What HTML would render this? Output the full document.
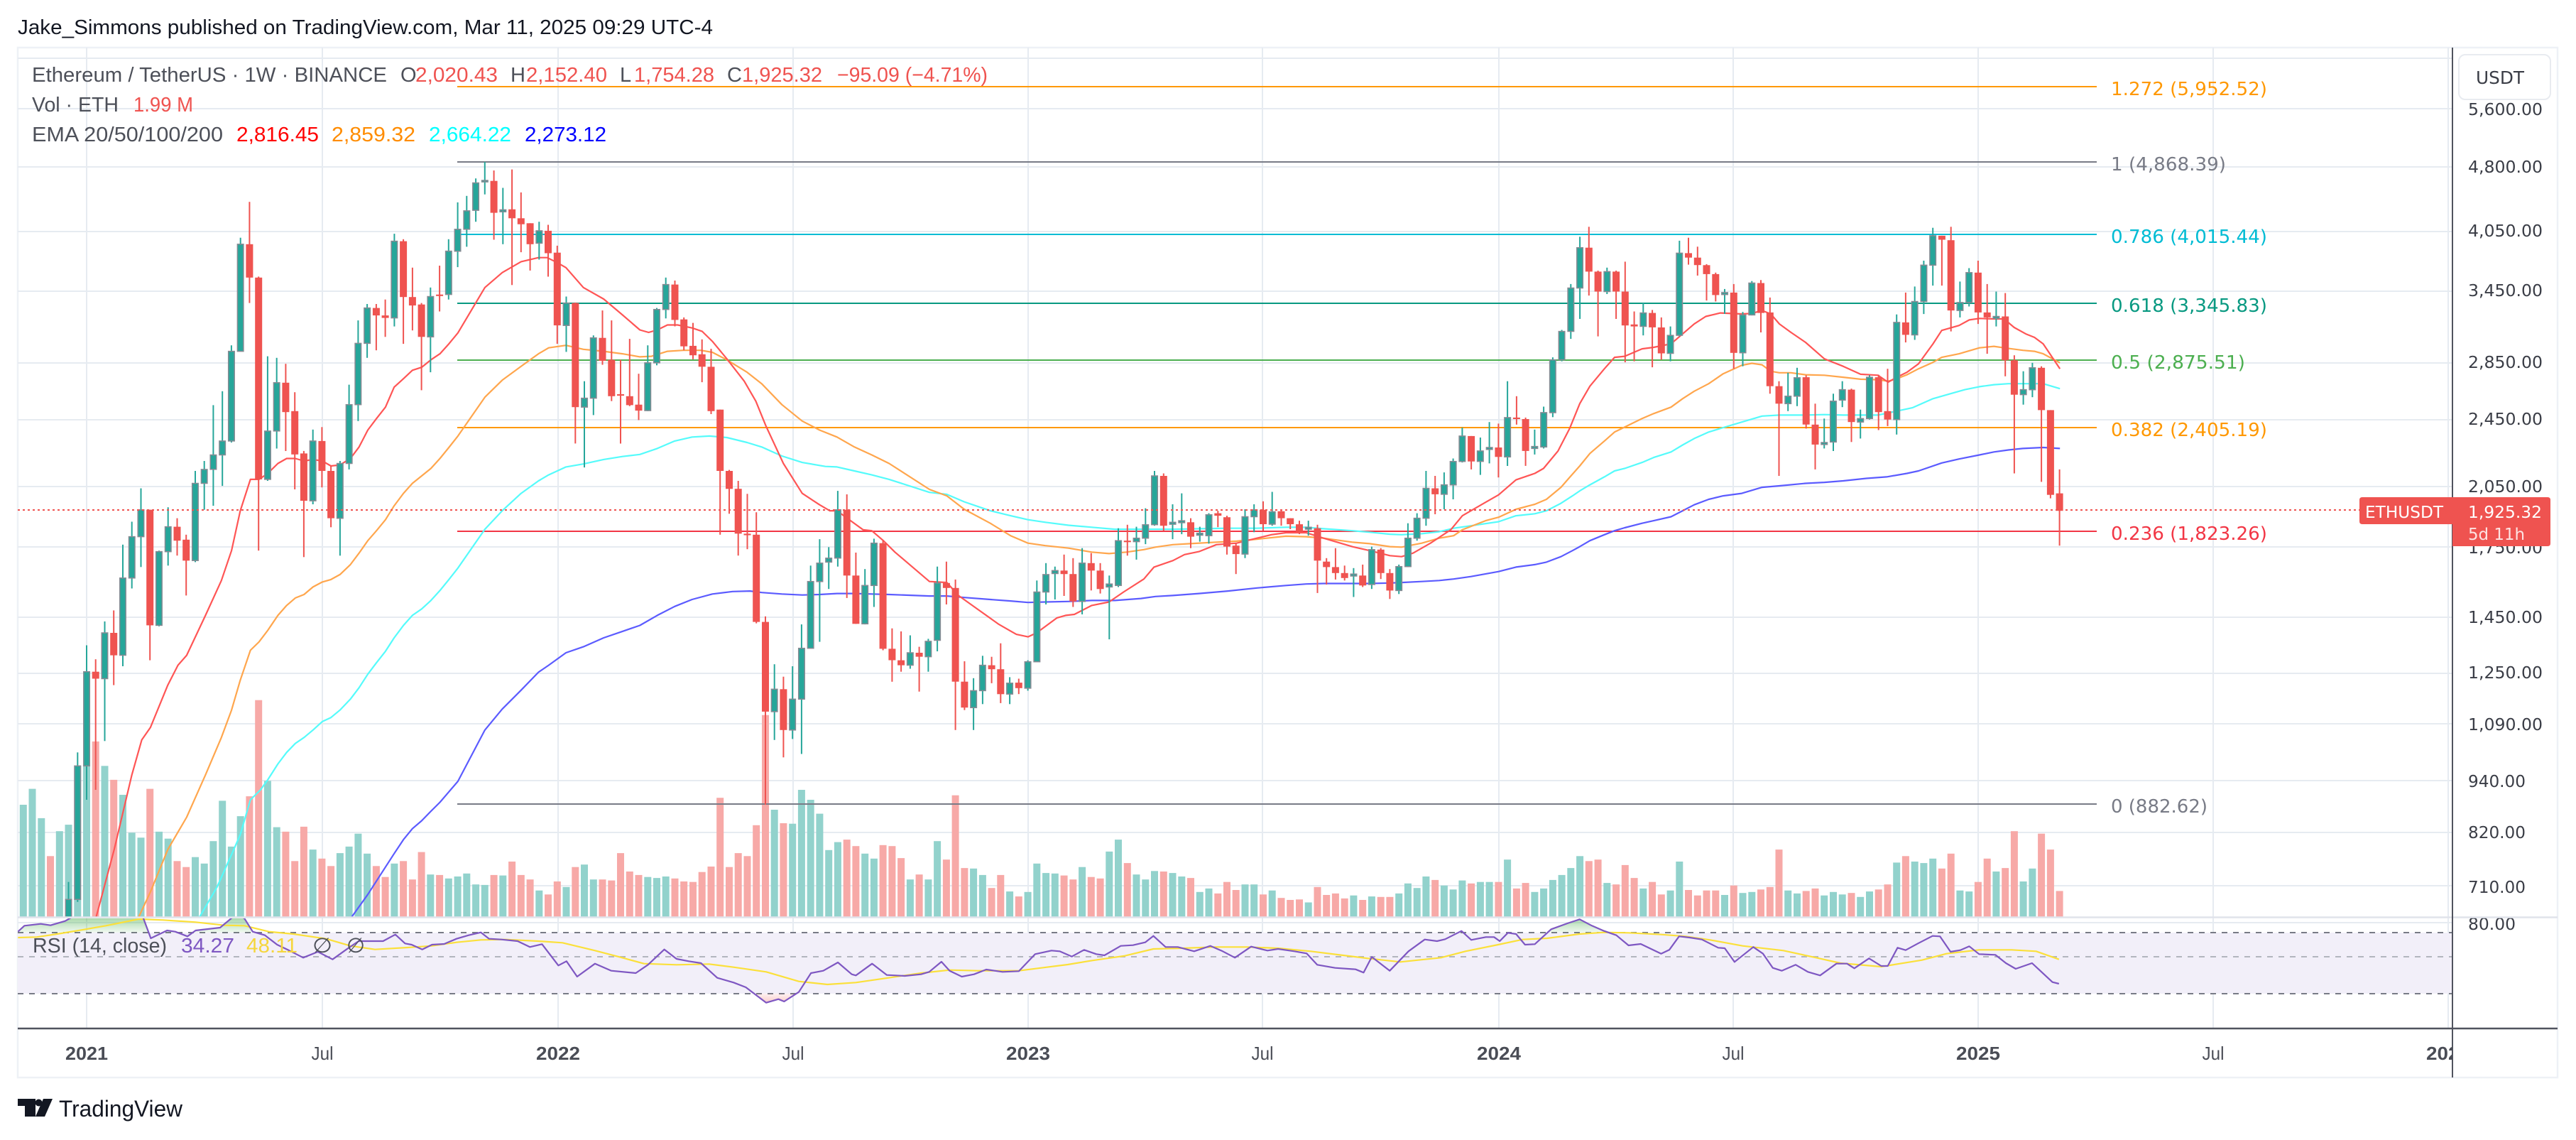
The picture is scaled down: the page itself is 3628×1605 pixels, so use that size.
<!DOCTYPE html>
<html><head><meta charset="utf-8">
<style>
html,body{margin:0;padding:0;background:#fff;}
svg{display:block;}
.lg{font-family:"Liberation Sans",Arial,sans-serif;font-size:29px;}
.ax{font-family:"DejaVu Sans","Liberation Sans",sans-serif;font-size:23.5px;fill:#3a3d46;}
.fb{font-family:"DejaVu Sans","Liberation Sans",sans-serif;font-size:26px;}
.tm{font-family:"Liberation Sans",Arial,sans-serif;font-size:26px;fill:#4a4d56;}
</style></head><body>
<svg id="s" width="3628" height="1605" viewBox="0 0 3628 1605" xmlns="http://www.w3.org/2000/svg">
<defs>
<clipPath id="cm"><rect x="25" y="67" width="3429" height="1224"/></clipPath>
<clipPath id="cr"><rect x="25" y="1293" width="3429" height="154"/></clipPath>
<clipPath id="cob"><rect x="25" y="1293" width="3429" height="20"/></clipPath>
<clipPath id="cos"><rect x="25" y="1399" width="3429" height="48"/></clipPath>
<clipPath id="ct"><rect x="25" y="1449" width="3429" height="68"/></clipPath>
<linearGradient id="gob" gradientUnits="userSpaceOnUse" x1="0" y1="1291" x2="0" y2="1313"><stop offset="0" stop-color="#4caf50" stop-opacity=".5"/><stop offset="1" stop-color="#4caf50" stop-opacity=".08"/></linearGradient>
<linearGradient id="gos" gradientUnits="userSpaceOnUse" x1="0" y1="1399" x2="0" y2="1420"><stop offset="0" stop-color="#ef5350" stop-opacity=".08"/><stop offset="1" stop-color="#ef5350" stop-opacity=".45"/></linearGradient>
</defs>
<rect width="3628" height="1605" fill="#fff"/>

<!-- header -->
<text x="25" y="48" class="lg" fill="#131722" textLength="979" lengthAdjust="spacingAndGlyphs">Jake_Simmons published on TradingView.com, Mar 11, 2025 09:29 UTC-4</text>

<!-- frame -->
<rect x="25" y="67" width="3577" height="1450" fill="none" stroke="#eef1f6" stroke-width="2.5"/>

<!-- grid -->
<g stroke="#e6ebf1" stroke-width="2" fill="none">
<path d="M25 82H3454M25 153H3454M25 235H3454M25 326H3454M25 410H3454M25 511H3454M25 591H3454M25 685H3454M25 770H3454M25 869H3454M25 948H3454M25 1019H3454M25 1099H3454M25 1172H3454M25 1247H3454M25 1299H3454"/>
<path d="M122 67V1448M454 67V1448M786 67V1448M1117 67V1448M1448 67V1448M1778 67V1448M2111 67V1448M2441 67V1448M2786 67V1448M3117 67V1448M3448 67V1448"/>
</g>

<!-- RSI band fill -->
<rect x="25" y="1313" width="3429" height="86" fill="#f2eff9"/>
<g stroke-width="2" fill="none">
<path d="M25 1313H3454" stroke="#787b86" stroke-dasharray="8,8"/>
<path d="M25 1347H3454" stroke="#b2b5be" stroke-dasharray="8,8"/>
<path d="M25 1399H3454" stroke="#787b86" stroke-dasharray="8,8"/>
</g>

<g clip-path="url(#cm)">
<g id="vol"></g>
<!-- fib lines -->
<g stroke-width="2">
<path d="M644 122H2953" stroke="#ff9800"/>
<path d="M644 228H2953" stroke="#787b86"/>
<path d="M644 330H2953" stroke="#00bcd4"/>
<path d="M644 427H2953" stroke="#089981"/>
<path d="M644 507H2953" stroke="#4caf50"/>
<path d="M644 602H2953" stroke="#ff9800"/>
<path d="M644 748H2953" stroke="#f23645"/>
<path d="M644 1132H2953" stroke="#787b86"/>
</g>
<g fill="none" stroke-width="2.2" stroke-linejoin="round">
<path id="e200" stroke="#5b5bff"/>
<path id="e100" stroke="#55fbfb"/>
<path id="e50" stroke="#ffa64d"/>
<path id="e20" stroke="#ff5555"/>
</g>
<g id="wk"></g>
<g id="bd"></g>
</g>

<!-- dotted current price line -->
<path d="M25 718H3323" stroke="#ef5350" stroke-width="2" stroke-dasharray="3,4"/>

<!-- fib labels -->
<g class="fb">
<text x="2973" y="134" fill="#ff9800" textLength="220" lengthAdjust="spacingAndGlyphs">1.272 (5,952.52)</text>
<text x="2973" y="240" fill="#787b86" textLength="162" lengthAdjust="spacingAndGlyphs">1 (4,868.39)</text>
<text x="2973" y="342" fill="#00bcd4" textLength="220" lengthAdjust="spacingAndGlyphs">0.786 (4,015.44)</text>
<text x="2973" y="439" fill="#089981" textLength="220" lengthAdjust="spacingAndGlyphs">0.618 (3,345.83)</text>
<text x="2973" y="519" fill="#4caf50" textLength="189" lengthAdjust="spacingAndGlyphs">0.5 (2,875.51)</text>
<text x="2973" y="614" fill="#ff9800" textLength="220" lengthAdjust="spacingAndGlyphs">0.382 (2,405.19)</text>
<text x="2973" y="760" fill="#f23645" textLength="220" lengthAdjust="spacingAndGlyphs">0.236 (1,823.26)</text>
<text x="2973" y="1144" fill="#787b86" textLength="136" lengthAdjust="spacingAndGlyphs">0 (882.62)</text>
</g>

<!-- legend -->
<g class="lg">
<text x="45" y="115" fill="#4d5059" textLength="500" lengthAdjust="spacingAndGlyphs">Ethereum / TetherUS · 1W · BINANCE</text>
<text x="564" y="115" fill="#4d5059">O</text>
<text x="585" y="115" fill="#ef5350" textLength="116" lengthAdjust="spacingAndGlyphs">2,020.43</text>
<text x="719" y="115" fill="#4d5059">H</text>
<text x="741" y="115" fill="#ef5350" textLength="114" lengthAdjust="spacingAndGlyphs">2,152.40</text>
<text x="873" y="115" fill="#4d5059">L</text>
<text x="893" y="115" fill="#ef5350" textLength="113" lengthAdjust="spacingAndGlyphs">1,754.28</text>
<text x="1024" y="115" fill="#4d5059">C</text>
<text x="1045" y="115" fill="#ef5350" textLength="113" lengthAdjust="spacingAndGlyphs">1,925.32</text>
<text x="1179" y="115" fill="#ef5350" textLength="212" lengthAdjust="spacingAndGlyphs">−95.09 (−4.71%)</text>
<text x="45" y="157" fill="#4d5059" textLength="122" lengthAdjust="spacingAndGlyphs">Vol · ETH</text>
<text x="188" y="157" fill="#ef5350" textLength="84" lengthAdjust="spacingAndGlyphs">1.99 M</text>
<text x="45" y="199" fill="#4d5059" textLength="269" lengthAdjust="spacingAndGlyphs">EMA 20/50/100/200</text>
<text x="333" y="199" fill="#ff0000" textLength="116" lengthAdjust="spacingAndGlyphs">2,816.45</text>
<text x="467" y="199" fill="#ff8c00" textLength="118" lengthAdjust="spacingAndGlyphs">2,859.32</text>
<text x="604" y="199" fill="#00ffff" textLength="116" lengthAdjust="spacingAndGlyphs">2,664.22</text>
<text x="739" y="199" fill="#0000ff" textLength="115" lengthAdjust="spacingAndGlyphs">2,273.12</text>
</g>

<!-- RSI pane -->
<g clip-path="url(#cob)"><path id="rob" fill="url(#gob)"/></g>
<g clip-path="url(#cos)"><path id="ros" fill="url(#gos)"/></g>
<g clip-path="url(#cr)" fill="none" stroke-width="2.2" stroke-linejoin="round">
<path id="rma" stroke="#fbe03a"/>
<path id="rsi" stroke="#7e57c2"/>
</g>
<g class="lg">
<text x="46" y="1341" fill="#4d5059" textLength="189" lengthAdjust="spacingAndGlyphs">RSI (14, close)</text>
<text x="255" y="1341" fill="#7e57c2" textLength="75" lengthAdjust="spacingAndGlyphs">34.27</text>
<text x="347" y="1341" fill="#f5d63d" textLength="72" lengthAdjust="spacingAndGlyphs">48.11</text>
<text x="440" y="1341" fill="#4d5059" textLength="28" lengthAdjust="spacingAndGlyphs">∅</text>
<text x="488" y="1341" fill="#4d5059" textLength="26" lengthAdjust="spacingAndGlyphs">∅</text>
</g>

<!-- price axis labels -->
<g class="ax">
<text x="3476" y="162" textLength="105" lengthAdjust="spacingAndGlyphs">5,600.00</text>
<text x="3476" y="243" textLength="105" lengthAdjust="spacingAndGlyphs">4,800.00</text>
<text x="3476" y="333" textLength="105" lengthAdjust="spacingAndGlyphs">4,050.00</text>
<text x="3476" y="417" textLength="105" lengthAdjust="spacingAndGlyphs">3,450.00</text>
<text x="3476" y="518" textLength="105" lengthAdjust="spacingAndGlyphs">2,850.00</text>
<text x="3476" y="598" textLength="105" lengthAdjust="spacingAndGlyphs">2,450.00</text>
<text x="3476" y="693" textLength="105" lengthAdjust="spacingAndGlyphs">2,050.00</text>
<text x="3476" y="779" textLength="105" lengthAdjust="spacingAndGlyphs">1,750.00</text>
<text x="3476" y="877" textLength="105" lengthAdjust="spacingAndGlyphs">1,450.00</text>
<text x="3476" y="955" textLength="105" lengthAdjust="spacingAndGlyphs">1,250.00</text>
<text x="3476" y="1028" textLength="105" lengthAdjust="spacingAndGlyphs">1,090.00</text>
<text x="3476" y="1108" textLength="81" lengthAdjust="spacingAndGlyphs">940.00</text>
<text x="3476" y="1180" textLength="81" lengthAdjust="spacingAndGlyphs">820.00</text>
<text x="3476" y="1257" textLength="81" lengthAdjust="spacingAndGlyphs">710.00</text>
<text x="3476" y="1309" textLength="67" lengthAdjust="spacingAndGlyphs">80.00</text>
</g>

<!-- separators & axes -->
<path d="M25 1291.5H3602" stroke="#e0e3eb" stroke-width="2.5"/>
<path d="M25 1448H3602" stroke="#50535e" stroke-width="2.5"/>
<path d="M3454 67V1517" stroke="#50535e" stroke-width="2"/>

<!-- USDT box -->
<rect x="3463" y="77" width="129" height="63" rx="9" fill="#fff" stroke="#e8ebf0" stroke-width="2"/>
<text x="3487" y="118" class="ax" style="font-size:25px" fill="#131722" textLength="68" lengthAdjust="spacingAndGlyphs">USDT</text>

<!-- price labels -->
<path d="M3327 700H3454V738H3327Q3323 738 3323 734V704Q3323 700 3327 700Z" fill="#ef5350"/>
<text x="3331" y="729" class="ax" style="fill:#fff" textLength="110" lengthAdjust="spacingAndGlyphs">ETHUSDT</text>
<path d="M3454 700H3588Q3592 700 3592 704V765Q3592 769 3588 769H3454Z" fill="#ef5350"/>
<text x="3476" y="729" class="ax" style="fill:#fff" textLength="104" lengthAdjust="spacingAndGlyphs">1,925.32</text>
<text x="3476" y="760" class="ax" style="fill:#fde3e2" textLength="80" lengthAdjust="spacingAndGlyphs">5d 11h</text>

<!-- time labels -->
<g clip-path="url(#ct)" class="tm" text-anchor="middle">
<text x="122" y="1492" font-weight="bold" textLength="60" lengthAdjust="spacingAndGlyphs">2021</text>
<text x="454" y="1492" textLength="31" lengthAdjust="spacingAndGlyphs">Jul</text>
<text x="786" y="1492" font-weight="bold" textLength="62" lengthAdjust="spacingAndGlyphs">2022</text>
<text x="1117" y="1492" textLength="31" lengthAdjust="spacingAndGlyphs">Jul</text>
<text x="1448" y="1492" font-weight="bold" textLength="62" lengthAdjust="spacingAndGlyphs">2023</text>
<text x="1778" y="1492" textLength="31" lengthAdjust="spacingAndGlyphs">Jul</text>
<text x="2111" y="1492" font-weight="bold" textLength="62" lengthAdjust="spacingAndGlyphs">2024</text>
<text x="2441" y="1492" textLength="31" lengthAdjust="spacingAndGlyphs">Jul</text>
<text x="2786" y="1492" font-weight="bold" textLength="62" lengthAdjust="spacingAndGlyphs">2025</text>
<text x="3117" y="1492" textLength="31" lengthAdjust="spacingAndGlyphs">Jul</text>
<text x="3448" y="1492" font-weight="bold" textLength="62" lengthAdjust="spacingAndGlyphs">2026</text>
</g>

<!-- logo -->
<g fill="#131722">
<rect x="25" y="1547" width="25" height="10"/>
<rect x="35" y="1547" width="15" height="25"/>
<circle cx="54.5" cy="1552.5" r="5"/>
<path d="M61 1547H74L63 1572H50Z"/>
</g>
<text x="83" y="1572" fill="#131722" style="font-family:'Liberation Sans',Arial,sans-serif;font-size:32px" textLength="174" lengthAdjust="spacingAndGlyphs">TradingView</text>
</svg>

<script>
(function(){
const fy=z=>200+z/1.4255, xw=w=>122+w*12.746;
const CS="g,1520,1600,1485,1600;g,1252,1520,1225,1525;g,1063,1252,1010,1320;r,1063,1077,1038,1300;g,985,1077,962,1202;r,985,1030,940,1090;g,875,1030,808,1052;g,792,875,762,896;g,738,792,695,853;r,738,970,738,1040;g,822,970,820,972;g,772,822,733,850;r,772,800,755,830;r,798,840,788,910;g,685,840,660,843;g,657,685,640,738;g,628,657,528,730;g,600,628,500,690;g,420,600,408,603;g,205,420,192,420;r,205,272,120,323;r,272,677,270,820;g,580,677,430,680;g,483,580,433,615;r,483,542,445,620;r,540,627,502,697;r,625,720,620,833;g,600,720,577,727;r,600,660,572,693;r,660,755,650,773;g,645,755,640,830;g,527,645,487,657;g,404,527,358,560;g,333,404,325,433;r,333,348,325,418;r,348,353,316,391;g,199,353,184,370;r,199,311,195,405;r,311,328,252,378;r,326,391,323,498;g,310,391,292,462;r,306,309,248,340;g,219,306,195,316;g,175,219,121,251;g,138,175,108,210;g,82,137,73,160;g,77,80,40,105;r,78,142,57,196;g,136,140,92,205;r,135,153,55,287;r,153,165,101,221;r,163,205,163,258;g,178,203,160,236;r,178,223,166,270;r,222,368,208,405;g,323,368,310,421;r,323,532,322,605;g,514,532,480,653;g,393,514,388,548;r,393,439,338,447;r,437,510,358,520;r,506,509,437,605;r,510,528,395,530;r,527,539,465,558;g,443,539,408,540;g,336,443,333,448;g,286,336,272,354;r,286,357,278,370;r,356,410,352,418;r,409,428,363,436;r,426,451,396,482;r,451,540,415,546;r,537,660,537,788;r,660,696,658,746;r,696,786,680,830;r,786,789,706,817;r,788,963,743,966;r,963,1143,952,1330;g,1098,1143,1048,1200;r,1098,1180,1073,1235;g,1118,1180,1052,1198;g,1016,1118,968,1228;g,882,1016,850,1016;g,845,882,797,1003;g,835,843,813,897;g,738,835,700,852;r,738,870,707,915;r,870,967,824,967;g,890,967,857,968;g,805,890,796,933;r,805,1017,800,1020;r,1017,1040,976,1083;r,1040,1050,982,1063;g,1025,1050,990,1057;r,1025,1033,1013,1103;g,1002,1033,997,1063;g,885,1000,852,1022;r,885,895,842,928;r,895,1083,878,1180;r,1083,1135,1042,1140;g,1101,1135,1076,1180;g,1050,1101,1031,1128;r,1050,1058,1033,1086;r,1058,1108,1006,1126;g,1086,1108,1074,1128;r,1085,1096,1077,1108;g,1043,1096,1040,1101;g,903,1043,880,1043;g,868,903,845,928;g,860,866,852,918;r,860,867,828,911;r,867,922,835,933;g,845,922,815,948;r,845,860,825,900;r,860,897,845,906;g,887,893,870,998;g,800,890,775,893;r,800,803,768,830;g,795,802,772,838;g,768,795,735,807;g,670,768,660,770;r,670,770,665,780;g,763,767,727,797;g,760,764,705,787;r,763,792,755,815;g,785,789,772,802;g,748,790,745,806;r,745,750,740,773;r,753,812,750,828;r,810,827,804,867;g,752,827,737,835;g,738,752,727,783;r,738,767,721,780;g,742,767,702,770;r,741,755,737,770;r,755,767,755,777;r,767,782,760,787;g,773,777,760,790;r,775,840,768,905;r,842,853,835,888;r,853,865,815,878;r,865,875,850,880;g,867,871,855,913;r,870,890,848,893;g,818,888,812,897;r,818,865,815,877;r,865,900,857,917;g,852,900,848,907;g,795,852,765,853;g,755,795,745,800;g,695,755,660,770;r,695,707,670,747;g,688,707,663,737;g,641,688,635,717;g,590,641,573,643;r,590,641,590,657;g,620,641,593,668;g,613,617,562,645;r,613,632,565,673;g,553,632,480,650;r,553,556,510,567;r,556,620,553,650;g,611,615,577,627;g,543,612,531,615;g,437,543,432,552;g,380,437,377,440;g,293,380,285,395;g,212,293,190,355;r,212,260,170,308;r,260,300,258,390;g,260,300,252,305;r,260,300,258,355;r,300,368,240,442;r,366,370,340,440;g,343,370,322,388;r,343,372,337,452;r,372,424,352,437;g,388,424,370,440;g,223,388,198,390;r,223,232,192,246;r,232,247,210,268;r,247,265,245,318;r,265,307,262,320;g,302,306,295,345;r,302,423,285,455;g,347,423,341,450;g,283,347,279,348;r,283,343,277,382;r,342,490,312,505;r,490,525,480,670;g,510,525,463,540;g,473,510,453,530;r,472,567,468,575;r,567,607,525,657;g,603,607,555,615;g,520,602,505,620;g,497,518,480,532;r,497,562,495,602;g,555,562,537,595;g,472,555,468,557;r,472,542,467,578;r,540,557,455,570;g,362,557,346,587;r,362,387,302,402;g,320,387,290,397;g,247,320,238,345;g,188,247,172,288;r,188,196,188,288;r,197,338,170,380;g,322,338,280,352;g,262,322,253,330;r,262,342,238,365;r,342,352,285,425;g,350,354,300,370;r,350,438,303,470;r,438,507,428,665;g,497,507,460,527;g,453,497,443,512;r,453,538,450,682;r,538,708,538,715;r,705,740,657,810";
const C=CS.split(';').map(s=>{const a=s.split(',');return [a[0],+a[1],+a[2],+a[3],+a[4]];});
const V=[1330,1298,1357,1433,1383,1370,1252,1140,1203,1252,
1280,1310,1386,1396,1298,1384,1398,1443,1455,1435,
1448,1403,1322,1414,1353,1313,1120,1282,1375,1384,
1443,1374,1420,1438,1453,1427,1414,1388,1428,1453,
1475,1448,1443,1480,1425,1470,1471,1478,1474,1468,
1490,1491,1471,1472,1444,1471,1480,1502,1510,1484,
1495,1455,1450,1480,1480,1482,1427,1464,1471,1475,
1477,1474,1478,1484,1485,1465,1454,1316,1455,1427,
1433,1371,1150,1340,1367,1368,1300,1320,1348,1421,
1405,1400,1413,1428,1438,1411,1413,1437,1480,1470,
1480,1403,1440,1311,1457,1458,1471,1497,1471,1504,
1514,1505,1448,1467,1468,1472,1480,1455,1475,1478,
1424,1400,1447,1470,1480,1463,1464,1467,1474,1477,
1505,1498,1508,1485,1501,1490,1490,1510,1502,1517,
1521,1520,1526,1495,1511,1508,1518,1512,1521,1514,
1515,1515,1508,1488,1497,1474,1481,1492,1500,1482,
1488,1485,1485,1485,1440,1498,1487,1505,1498,1481,
1471,1457,1433,1443,1440,1487,1490,1451,1477,1498,
1485,1510,1502,1444,1501,1512,1502,1502,1511,1492,
1507,1505,1500,1495,1420,1502,1508,1503,1498,1512,
1505,1510,1507,1515,1504,1500,1490,1446,1433,1444,
1447,1438,1458,1428,1502,1504,1485,1438,1464,1457,
1383,1484,1458,1388,1420,1503];
const VC="gggrg";
let vol='',wk='',bd='';
for(let i=0;i<V.length;i++){const w=i-7,x=xw(w);let up;if(w<-2)up=VC[i]==='g';else{const c=C[w+2];up=c?c[0]==='g':true;}
 const y=fy(V[i]);vol+=`<rect x="${(x-5).toFixed(1)}" y="${y.toFixed(1)}" width="10" height="${(1291-y).toFixed(1)}" fill="${up?'#92d2cc':'#f7a9a7'}"/>`;}
for(let i=0;i<C.length;i++){const w=i-2,x=xw(w),[c,bt,bb,wt,wb]=C[i],up=c==='g';
 const y0=fy(wt),y1w=fy(wb);
 wk+=`<rect x="${(x-1).toFixed(1)}" y="${y0.toFixed(1)}" width="2" height="${(y1w-y0).toFixed(1)}" fill="${up?'#26a69a':'#ef5350'}"/>`;
 let a=fy(bt),b=fy(bb);if(b-a<2){const m=(a+b)/2;a=m-1;b=m+1;}
 bd+=up?`<rect x="${(x-4.25).toFixed(1)}" y="${a.toFixed(1)}" width="8.5" height="${(b-a).toFixed(1)}" fill="#26a69a" stroke="#878a93" stroke-width="1.5"/>`
       :`<rect x="${(x-5).toFixed(1)}" y="${a.toFixed(1)}" width="10" height="${(b-a).toFixed(1)}" fill="#ef5350"/>`;}
document.getElementById('vol').innerHTML=vol;
document.getElementById('wk').innerHTML=wk;
document.getElementById('bd').innerHTML=bd;

const RG=[[-1e9,645],[665,1268],[1285,1888],[1900,2440],[2450,1e9]];
function ema(segs){let pts=[];segs.forEach((s,k)=>{const X0=s[0],a=s[1];for(let j=0;j<a.length;j+=2){const x=X0+a[j]/2.45;if(x>=RG[k][0]&&x<=RG[k][1])pts.push([x,fy(a[j+1])]);}});
 return pts.map((p,i)=>(i?'L':'M')+p[0].toFixed(1)+' '+p[1].toFixed(1)).join('');}
const E20=[[20,[250,1640,283,1555,345,1420,406,1270,440,1200,470,1175,530,1090,565,1050,595,1030,660,950,715,880,750,820,780,740,815,677,845,677,875,665,910,645,940,635,970,635,1000,640,1031,637,1063,640,1093,650,1124,648,1160,635,1190,612,1220,578,1250,555,1281,532,1311,492,1343,475,1374,458,1406,452,1438,437,1469,425,1500,405,1531,383,1568,340]],
[640,[0,385,40,350,105,292,165,262,230,240,290,232,320,232,355,242,385,252,445,292,515,315,580,347,640,377,670,382,700,377,735,367,770,367,820,373,855,380,890,400,940,435,1000,480,1040,520,1075,570,1135,645,1200,705,1260,728,1295,740,1320,740,1360,757,1410,778,1440,780,1480,800,1520,823,1568,852]],
[1260,[0,822,60,852,120,882,180,884,220,910,280,935,360,968,420,988,460,993,490,985,560,955,590,950,620,948,680,930,740,923,790,903,860,877,895,853,960,840,1000,828,1050,822,1110,808,1180,805,1250,795,1300,788,1350,784,1420,784,1480,795,1568,810]],
[1880,[0,798,60,812,120,820,190,830,230,832,270,825,330,805,400,778,440,750,520,723,565,708,625,678,690,665,720,655,770,620,810,575,845,525,880,490,930,455,965,432,1000,430,1060,415,1100,412,1160,405,1200,385,1240,365,1280,350,1330,343,1375,348,1440,343,1470,340,1500,345,1568,380]],
[2400,[0,347,40,344,70,348,100,345,130,345,165,344,200,338,230,345,260,365,300,382,350,402,415,435,480,450,540,466,600,468,635,482,665,472,700,462,740,445,790,405,820,378,880,368,915,357,950,354,1000,355,1035,355,1070,372,1110,385,1140,392,1170,405,1228,455]]];
const E50=[[20,[400,1600,430,1555,470,1505,530,1420,565,1385,595,1355,660,1270,715,1195,750,1140,780,1080,815,1020,845,1003,875,980,910,950,940,930,970,915,1000,908,1031,893,1063,883,1093,878,1124,868,1160,848,1190,825,1220,800,1250,780,1281,758,1311,730,1343,705,1374,685,1406,670,1438,655,1469,635,1500,613,1531,590,1568,565]],
[640,[0,598,40,560,105,512,165,478,230,450,290,425,325,413,385,408,445,416,515,420,580,425,640,431,680,430,735,420,790,418,850,418,890,422,940,437,1010,462,1060,485,1130,527,1200,560,1260,578,1320,592,1380,612,1440,628,1500,645,1568,672]],
[1260,[0,655,60,677,120,697,180,710,240,737,330,765,400,790,460,805,520,810,600,815,680,823,740,826,800,823,860,818,900,813,960,808,1020,806,1110,803,1180,801,1250,797,1350,791,1420,792,1480,795,1568,800]],
[1880,[0,797,60,803,120,806,190,812,230,813,300,805,360,795,410,790,440,778,520,760,565,753,625,737,690,727,730,717,780,693,810,673,845,650,880,625,930,600,965,582,1000,572,1060,555,1100,545,1160,532,1200,515,1240,500,1290,485,1340,465,1375,463,1440,452,1470,447,1500,450,1568,455]],
[2400,[0,452,40,453,70,452,130,448,165,444,200,447,230,460,260,463,300,463,350,467,415,468,480,472,540,476,600,477,635,480,665,475,700,467,740,455,790,442,820,432,880,425,950,413,1000,410,1035,413,1100,418,1140,420,1170,425,1228,443]]];
const E100=[[20,[610,1600,640,1555,700,1495,750,1430,780,1390,815,1320,850,1300,875,1280,910,1248,940,1225,970,1207,1000,1195,1031,1180,1063,1163,1093,1155,1124,1140,1160,1118,1190,1095,1220,1068,1250,1045,1281,1022,1311,995,1343,970,1374,950,1406,937,1438,920,1469,900,1500,878,1531,855,1568,822]],
[640,[0,860,50,815,105,777,165,740,230,705,290,680,325,668,385,652,445,646,515,637,580,631,640,627,700,615,760,600,820,592,880,590,940,593,1010,603,1060,612,1130,630,1200,643,1280,651,1320,652,1380,660,1440,668,1500,677,1568,690]],
[1260,[0,682,60,693,120,703,180,707,240,722,330,740,400,750,460,758,520,763,600,769,680,773,760,777,850,777,960,777,1050,776,1150,775,1250,775,1350,773,1420,773,1480,776,1568,781]],
[1880,[0,777,60,780,120,783,190,787,230,788,300,786,360,782,410,775,470,770,565,762,625,750,690,746,730,740,780,725,820,710,845,700,880,688,930,672,965,660,1000,655,1060,643,1100,633,1160,622,1200,608,1240,595,1290,582,1340,573,1375,568,1440,560,1470,553,1500,550,1568,547]],
[2400,[0,582,100,567,200,550,260,548,350,548,415,547,480,548,540,548,600,548,665,540,720,533,790,515,850,505,900,497,950,491,1000,487,1050,485,1100,485,1170,485,1228,495]]];
const E200=[[20,[1130,1600,1165,1555,1220,1510,1281,1455,1311,1428,1343,1400,1374,1378,1406,1362,1438,1343,1469,1325,1500,1304,1531,1283,1568,1255]],
[640,[0,1272,50,1225,105,1180,165,1138,230,1100,290,1064,325,1050,385,1025,445,1013,515,995,580,982,640,970,700,950,760,932,820,918,890,907,960,902,1020,901,1060,904,1130,907,1200,909,1260,908,1320,906,1380,906,1440,907,1500,908,1568,910]],
[1260,[0,908,60,910,120,911,180,911,240,914,330,918,400,921,460,924,520,923,600,922,680,920,760,920,850,916,900,912,960,910,1050,906,1150,901,1250,895,1350,890,1420,887,1480,886,1568,886]],
[1880,[0,886,60,886,120,886,190,885,230,884,300,882,360,880,410,877,470,872,565,862,625,853,690,848,730,843,780,832,820,820,845,812,880,800,930,788,965,780,1000,774,1060,765,1100,760,1160,752,1200,740,1240,728,1290,717,1340,710,1375,708,1440,700,1470,694,1500,692,1568,688]],
[2400,[0,727,70,715,130,705,200,693,260,690,350,685,415,683,480,680,560,675,630,672,700,665,740,660,820,644,880,636,950,628,1000,622,1050,618,1100,615,1170,613,1228,615]]];
document.getElementById('e20').setAttribute('d',ema(E20));
document.getElementById('e50').setAttribute('d',ema(E50));
document.getElementById('e100').setAttribute('d',ema(E100));
document.getElementById('e200').setAttribute('d',ema(E200));

const R4=[22,185,30,160,50,152,62,158,80,140,95,110,118,110,140,110,160,110,175,120,185,213,205,180,215,185,230,205,240,180,270,168,285,125,292,110,300,130,310,185,325,200,340,240,355,265,372,295,390,270,408,302,425,260,440,225,455,225,470,225,485,197,497,235,505,240,518,260,530,240,545,237,560,215,575,200,590,188,600,215,615,218,635,225,650,250,665,238,685,328,695,310,708,375,730,320,750,350,780,360,795,325,815,260,830,300,845,310,860,318,880,380,900,400,915,420,940,485,955,470,962,480,980,440,995,360,1010,350,1028,315,1045,365,1050,370,1070,320,1088,368,1110,372,1130,365,1140,355,1155,312,1165,350,1180,375,1195,365,1210,345,1230,355,1250,352,1270,280,1290,265,1300,268,1315,290,1330,262,1345,280,1355,285,1375,245,1390,242,1405,230,1415,203,1430,250,1445,250,1465,268,1485,245,1500,268,1515,295,1535,248,1555,265,1568,258];
const R5=[20,268,35,277,48,325,70,338,95,344,105,358,115,292,137,350,160,268,180,218,195,225,205,217,225,182,237,220,255,208,265,208,272,225,282,190,292,195,303,240,315,238,335,175,355,150,370,133,385,160,400,182,415,200,430,243,445,237,470,278,480,262,492,205,505,210,520,218,540,253,548,255,560,313,583,250,595,278,607,338,618,350,635,325,650,355,665,370,685,320,698,320,707,340,725,298,740,330,748,330,760,253,770,263,785,235,803,203,812,205,825,270,837,263,848,247,860,280,880,283,893,318,905,342,925,318,935,350,950,398,958,405];
const M4=[22,210,45,208,70,195,100,178,130,160,170,132,200,136,240,145,275,158,300,160,330,185,360,195,400,215,430,245,460,260,500,252,530,245,560,230,590,220,620,218,660,225,690,232,730,265,760,292,790,320,830,325,870,322,900,335,940,355,980,395,1015,408,1050,400,1090,380,1130,360,1165,347,1200,350,1250,350,1280,337,1310,324,1340,307,1380,287,1415,258,1450,255,1490,250,1530,250,1568,255];
const M5=[40,268,80,285,110,298,150,313,200,295,230,268,270,240,300,218,330,213,370,195,400,188,430,190,470,197,500,205,530,220,570,245,620,265,660,295,690,318,740,333,790,305,820,278,860,262,900,262,930,268,958,302];
function rpts(a,b){const p=[];for(let j=0;j<a.length;j+=2)p.push([a[j]/0.8711,1250+a[j+1]/3]);for(let j=0;j<b.length;j+=2)p.push([1800+b[j]/0.8711,1250+b[j+1]/3]);return p;}
const toD=p=>p.map((q,i)=>(i?'L':'M')+q[0].toFixed(1)+' '+q[1].toFixed(1)).join('');
const rp=rpts(R4,R5),mp=rpts(M4,M5);
document.getElementById('rsi').setAttribute('d',toD(rp));
document.getElementById('rma').setAttribute('d',toD(mp));
const f=rp[0][0],l=rp[rp.length-1][0];
document.getElementById('rob').setAttribute('d',toD(rp)+`L${l.toFixed(1)} 1313L${f.toFixed(1)} 1313Z`);
document.getElementById('ros').setAttribute('d',toD(rp)+`L${l.toFixed(1)} 1399L${f.toFixed(1)} 1399Z`);
})();
</script>
</body></html>
